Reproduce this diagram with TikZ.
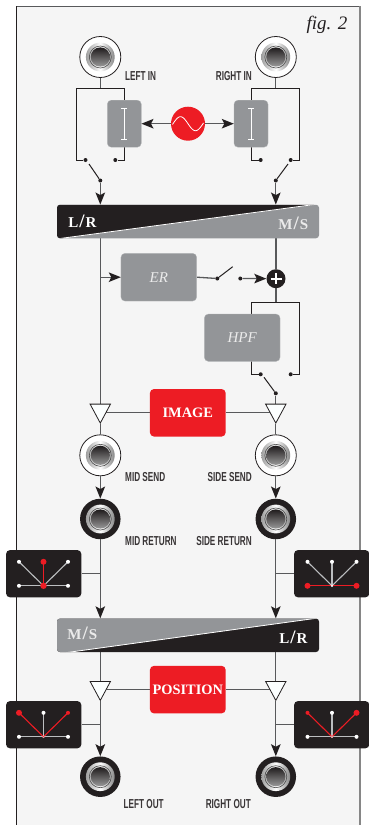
\documentclass[tikz,border=0pt]{standalone}
\usepackage{fontspec}
\setmainfont{Liberation Serif}
\newfontfamily\labfont[FakeStretch=0.63]{Liberation Sans}
\usetikzlibrary{arrows.meta,shapes.geometric,backgrounds}
\definecolor{ink}{HTML}{231F20}
\definecolor{wiregray}{HTML}{58595B}
\definecolor{boxgray}{HTML}{939598}
\definecolor{redbox}{HTML}{ED1C24}
\definecolor{panelbg}{HTML}{F5F5F5}
\definecolor{spoke}{HTML}{BCBEC0}
\newcommand{\jackcore}{%
  \coordinate (jc) at (path picture bounding box.center);
  \shade[shading=axis,shading angle=135,left color=gray!75,right color=gray!95,middle color=white] (jc) circle (14.4pt);
  \draw[gray!60!black,line width=.6pt] (jc) circle (11pt);
  \shade[top color=ink!90!black,bottom color=gray!80] (jc) circle (9.6pt);
}
\newcommand{\spk}[6]{% centre, dx, dy, colour, width, dot radius
  \draw[#4,line width=#5] (#1) -- ++(#2,#3);
  \fill[#4] (#1) ++(#2,#3) circle (#6);
}
\newcommand{\whitespk}[3]{%
  \draw[spoke,line width=1.1pt] (#1) -- ++(#2,#3);
  \fill[white] (#1) ++(#2,#3) circle (2pt);
}
\newcommand{\modetext}[3]{#1\kern1pt{\fontsize{19}{19}\selectfont #2}\kern1pt #3}
\tikzset{
  x=1pt,y=-1pt,
  wire/.style={ink,line width=1pt},
  gwire/.style={wiregray,line width=1.3pt},
  arrowed/.style={-{Stealth[length=12pt,width=9.5pt,inset=2.5pt,fill=ink,color=ink]}},
  dotn/.style={circle,fill=ink,inner sep=0pt,minimum size=4pt},
  graybox/.style={rectangle,rounded corners=4pt,fill=boxgray,draw=boxgray!70!white,line width=.3pt,inner sep=0pt,font=\itshape\fontsize{15}{15}\selectfont,text=white!92!black},
  redbtn/.style={rectangle,rounded corners=4pt,fill=redbox,inner sep=0pt,minimum width=75.7pt,minimum height=47.5pt,text=white,font=\bfseries\fontsize{14.4}{14.4}\selectfont},
  sendjack/.style={circle,draw=ink,line width=.8pt,fill=white,inner sep=0pt,minimum size=41pt,path picture={\jackcore}},
  retjack/.style={circle,fill=ink,inner sep=0pt,minimum size=40.5pt,path picture={\jackcore}},
  buf/.style={isosceles triangle,isosceles triangle stretches,shape border rotate=270,draw=ink,line width=.8pt,fill=panelbg!60!cyan!3!white,inner sep=0pt,minimum width=20.4pt,minimum height=19pt,anchor=lower side},
  meterbox/.style={rectangle,rounded corners=4pt,fill=ink,inner sep=0pt,minimum width=75.3pt,minimum height=47.3pt},
  lab/.style={inner sep=0pt,text=ink!90!white,font=\labfont\bfseries\fontsize{13}{13}\selectfont},
  modetxt/.style={inner sep=0pt,text=white,font=\bfseries\fontsize{15}{15}\selectfont},
}
\begin{document}
\begin{tikzpicture}
\useasboundingbox (0,0) rectangle (369,825);

% text and jacks
\node[font=\itshape\fontsize{19}{19}\selectfont,text=ink,anchor=east,inner sep=0pt] (figlabel) at (347.5,25) {fig. 2};
\node[sendjack] (jLI) at (100.3,57) {};
\node[sendjack] (jRI) at (275.8,57) {};
\node[sendjack] (jMS) at (100.3,455.3) {};
\node[sendjack] (jSS) at (275.8,455.3) {};
\node[retjack] (jMR) at (100.3,519) {};
\node[retjack] (jSR) at (275.8,519) {};
\node[retjack] (jLO) at (100.3,776.7) {};
\node[retjack] (jRO) at (275.8,776.7) {};
\node[lab,anchor=west] (tLI) at (125,76) {LEFT IN};
\node[lab,anchor=east] (tRI) at (252,76) {RIGHT IN};
\node[lab,anchor=west] (tMS) at (125,477) {MID SEND};
\node[lab,anchor=east] (tSS) at (252,477) {SIDE SEND};
\node[lab,anchor=west] (tMR) at (125,541) {MID RETURN};
\node[lab,anchor=east] (tSR) at (252,541) {SIDE RETURN};
\node[lab,anchor=west] (tLO) at (123.5,804) {LEFT OUT};
\node[lab,anchor=east] (tRO) at (251,804) {RIGHT OUT};

% trim boxes and LFO
\node[graybox,minimum width=34pt,minimum height=47pt] (trL) at (124.3,123.7) {};
\node[graybox,minimum width=34pt,minimum height=47pt] (trR) at (251,123.7) {};
\draw[white,line width=.8pt] (121.3,108) -- (127.3,108) (124.3,108) -- (124.3,139) (121.3,139) -- (127.3,139);
\draw[white,line width=.8pt] (248,108) -- (254,108) (251,108) -- (251,139) (248,139) -- (254,139);
\node[circle,fill=redbox,inner sep=0pt,minimum size=34pt] (lfo) at (188,123.7) {};
\draw[white,line width=.8pt,shift={(lfo.center)}] plot[domain=-15.5:15.5,samples=40,smooth] (\x,{7*sin(\x*12)});

% mode bars
\node[rectangle,rounded corners=3pt,inner sep=0pt,minimum width=262pt,minimum height=33.5pt,fill=boxgray,
  path picture={
    \begin{scope}[shift={(path picture bounding box.center)}]
    \fill[ink] (-131,17.5) -- (-131,-17.5) -- (131,-17.5) -- (128,-17) -- cycle;
    \draw[white,line width=.8pt] (-128,17) -- (130,-17.5);
    \end{scope}
  }] (barA) at (188,221.5) {};
\node[modetxt] (tLR) at (82.5,221.5) {\modetext{L}{/}{R}};
\node[modetxt,text=white!92!black] (tMSa) at (293.3,223) {\modetext{M}{/}{S}};
\node[rectangle,rounded corners=3pt,inner sep=0pt,minimum width=262pt,minimum height=33.5pt,fill=ink,
  path picture={
    \begin{scope}[shift={(path picture bounding box.center)}]
    \fill[boxgray] (-131,17.5) -- (-131,-17.5) -- (131,-17.5) -- (128,-17) -- (-123,17.5) -- cycle;
    \draw[white,line width=.8pt] (-123,17.5) -- (128,-17);
    \end{scope}
  }] (barB) at (188,635.3) {};
\node[modetxt,text=white!92!black] (tMSb) at (82.3,633) {\modetext{M}{/}{S}};
\node[modetxt] (tLRb) at (293.5,637) {\modetext{L}{/}{R}};

% process boxes
\node[graybox,minimum width=75.7pt,minimum height=47.7pt] (er) at (158.8,277.2) {ER};
\node[graybox,minimum width=75.7pt,minimum height=47.3pt] (hpf) at (242.2,337.7) {HPF};
\node[circle,fill=ink,inner sep=0pt,minimum size=19pt] (sum) at (276,278.7) {};
\draw[white,line width=1.6pt] (sum.center) ++(-5.5,0) -- ++(11,0) (sum.center) ++(0,-5.5) -- ++(0,11);
\node[redbtn] (img) at (187.8,412.8) {IMAGE};
\node[redbtn] (pos) at (187.8,689.6) {POSITION};

% buffers
\node[buf] (bIL) at (100.3,403.7) {};
\node[buf] (bIR) at (275.8,403.7) {};
\node[buf] (bPL) at (100.3,681) {};
\node[buf] (bPR) at (275.8,681) {};

% switch contacts
\node[dotn] (s1a) at (85.5,160) {};
\node[dotn] (s1b) at (115.3,160) {};
\node[dotn] (s1c) at (100.3,180.5) {};
\node[dotn] (s2a) at (260.7,160) {};
\node[dotn] (s2b) at (290.7,160) {};
\node[dotn] (s2c) at (275.8,180.5) {};
\node[dotn] (s3a) at (217.3,278.5) {};
\node[dotn] (s3b) at (240.3,278.5) {};
\node[dotn] (s4a) at (260.7,374.3) {};
\node[dotn] (s4b) at (290.7,374.3) {};
\node[dotn] (s4c) at (275.8,393.3) {};
\coordinate (s1t) at (89,164);
\coordinate (s2t) at (288,164);
\coordinate (s3t) at (232.7,266.7);
\coordinate (s4t) at (264,377.3);
\coordinate (b1) at (100.3,88.5);
\coordinate (b1l) at (76,88.5);
\coordinate (b1r) at (124.3,88.5);
\coordinate (b2) at (275.8,88.5);
\coordinate (b2l) at (251,88.5);
\coordinate (b2r) at (299.3,88.5);
\coordinate (b3) at (276,302.3);
\coordinate (b3l) at (251.3,302.3);
\coordinate (b3r) at (299.3,302.3);

% meters
\node[meterbox] (mA) at (43.7,573.7) {};
\coordinate (mAc) at (43.5,585.8);
\whitespk{mAc}{-24.5}{-24}\whitespk{mAc}{24.5}{-24}\whitespk{mAc}{-24.5}{0}\whitespk{mAc}{24.5}{0}
\spk{mAc}{0}{-24}{redbox}{1.3pt}{3pt}
\fill[redbox] (mAc) circle (3.2pt);
\node[meterbox] (mB) at (331.7,573.7) {};
\coordinate (mBc) at (332,585.8);
\whitespk{mBc}{-24.5}{-24}\whitespk{mBc}{24.5}{-24}\whitespk{mBc}{0}{-24}
\spk{mBc}{-24.5}{0}{redbox}{1.1pt}{3pt}\spk{mBc}{24.5}{0}{redbox}{1.1pt}{3pt}
\fill[white] (mBc) circle (1.3pt);
\node[meterbox] (mC) at (43.7,724.7) {};
\coordinate (mCc) at (43.5,736.8);
\whitespk{mCc}{0}{-24}\whitespk{mCc}{-24.5}{0}\whitespk{mCc}{24.5}{0}
\spk{mCc}{-24.5}{-24}{redbox}{1.1pt}{3pt}\spk{mCc}{24.5}{-24}{redbox}{1.1pt}{2pt}
\fill[white] (mCc) circle (1.2pt);\fill[redbox] (mCc) circle (.8pt);
\node[meterbox] (mD) at (331.7,724.7) {};
\coordinate (mDc) at (332,736.8);
\whitespk{mDc}{0}{-24}\whitespk{mDc}{-24.5}{0}\whitespk{mDc}{24.5}{0}
\spk{mDc}{-24.5}{-24}{redbox}{1.1pt}{2pt}\spk{mDc}{24.5}{-24}{redbox}{1.1pt}{3pt}
\fill[white] (mDc) circle (1.2pt);\fill[redbox] (mDc) circle (.8pt);

% connectors
\begin{scope}[on background layer]
\fill[panelbg] (16.5,6) rectangle (360,825);
\draw[ink,line width=.9pt] (16.5,825) -- (16.5,6);
\draw[wiregray,line width=.9pt] (16.5,6) -- (360,6);
\draw[gray!95,line width=1.6pt] (360,6) -- (360,825);
\draw[gwire] (jLI.south) -- (b1);
\draw[gwire] (jRI.south) -- (b2);
\draw[wire] (s1a) -| (b1l) -- (b1r) |- (s1b);
\draw[wire] (s2a) -| (b2l) -- (b2r) |- (s2b);
\draw[gwire] (barA.south -| bIL.lower side) -- (bIL.lower side);
\draw[gwire] (barA.south -| sum) -- (sum);
\draw[gwire] (sum) -- (b3);
\draw[wire] (s4a) -| (b3l) -- (b3r) |- (s4b);
\draw[gwire] (s4c) -- (bIR.lower side);
\draw[gwire] (er.east) -- (s3a);
\draw[gwire] (img.west) -- (img.west -| bIL.lower side);
\draw[gwire] (img.east) -- (img.east -| bIR.lower side);
\draw[gwire] (pos.west) -- (pos.west -| bPL.lower side);
\draw[gwire] (pos.east) -- (pos.east -| bPR.lower side);
\draw[gwire] (bIL.apex) -- (jMS.north);
\draw[gwire] (bIR.apex) -- (jSS.north);
\draw[gwire] (barB.south -| bPL.lower side) -- (bPL.lower side);
\draw[gwire] (barB.south -| bPR.lower side) -- (bPR.lower side);
\draw[gwire] (mA.east) -- (mA.east -| jMR);
\draw[gwire] (mB.west) -- (mB.west -| jSR);
\draw[gwire] (mC.east) -- (mC.east -| jLO);
\draw[gwire] (mD.west) -- (mD.west -| jRO);
\end{scope}
\draw[wire] (s1t) -- (s1c);
\draw[wire] (s2t) -- (s2c);
\draw[wire] (s3a) -- (s3t);
\draw[wire] (s4t) -- (s4c);
\draw[gwire,arrowed] (s1c) -- (barA.north -| s1c);
\draw[gwire,arrowed] (s2c) -- (barA.north -| s2c);
\draw[gwire,arrowed] (lfo) -- (trL.east);
\draw[gwire,arrowed] (lfo) -- (trR.west);
\draw[gwire,arrowed] (er.west -| bIL.lower side) -- (er.west);
\draw[gwire,arrowed] (s3b) -- (sum);
\draw[gwire,arrowed] (jMS.south) -- (jMR.north);
\draw[gwire,arrowed] (jSS.south) -- (jSR.north);
\draw[gwire,arrowed] (jMR.south) -- (barB.north -| jMR);
\draw[gwire,arrowed] (jSR.south) -- (barB.north -| jSR);
\draw[gwire,arrowed] (bPL.apex) -- (jLO.north);
\draw[gwire,arrowed] (bPR.apex) -- (jRO.north);
\end{tikzpicture}
\end{document}
